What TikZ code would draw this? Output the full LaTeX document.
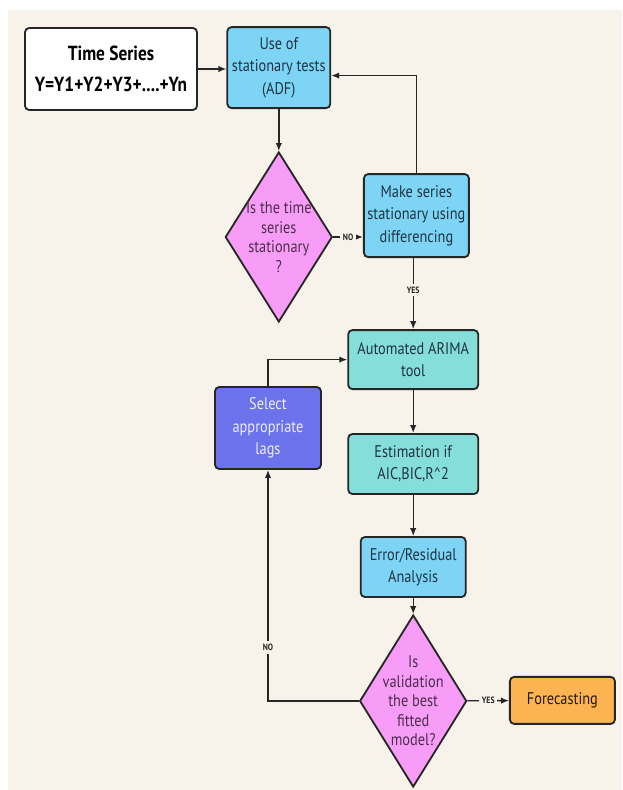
\documentclass[tikz,border=0pt]{standalone}
\usepackage{fontspec}
\setmainfont{PT Sans}[FakeStretch=0.85]
\usepackage{tikz}
\usetikzlibrary{arrows.meta,positioning,shapes.geometric,calc}
\definecolor{paper}{RGB}{247,243,234}
\definecolor{testBlue}{RGB}{125,212,245}
\definecolor{modelTeal}{RGB}{134,222,218}
\definecolor{lagPurple}{RGB}{108,114,236}
\definecolor{askPink}{RGB}{247,156,247}
\definecolor{outOrange}{RGB}{251,180,81}
\definecolor{inkText}{RGB}{30,52,66}
\tikzset{
    every node/.append style={align=center},
    box/.style={rectangle,draw=black!85,line width=1.3pt,rounded corners=3pt,
        text=inkText,font=\fontsize{12}{16}\selectfont,inner sep=1pt},
    gate/.style={diamond,draw=black!85,line width=1.3pt,fill=askPink,
        text=black!70!askPink,font=\fontsize{12}{13.9}\selectfont,inner sep=-3mm},
    arr/.style={-{Latex[length=2mm,width=1.6mm]},line width=1pt,draw=black!85},
    lbl/.style={font=\fontsize{6.5}{7}\bfseries\selectfont,fill=paper,inner sep=2pt,text=black!85}
}

\begin{document}
\begin{tikzpicture}
    \useasboundingbox (0,0) rectangle (15.55,-19.75);
    \fill[paper] (0.2,-0.25) rectangle (15.55,-19.75);
    % top row
    \node[box,fill=white,text=black,minimum width=4.3cm,minimum height=2.05cm,
        font=\fontsize{14.5}{22}\bfseries\selectfont] (ts) at (2.775,-1.725) {Time Series\\Y=Y1+Y2+Y3+....+Yn};
    \node[box,fill=testBlue,minimum width=2.575cm,minimum height=2.025cm] (adf) at (6.97,-1.69) {Use of\\stationary tests\\(ADF)};
    % stationarity check
    \node[gate,minimum width=2.675cm,minimum height=4.25cm] (stat) at (6.97,-5.925) {Is the time\\series\\stationary\\?};
    \node[box,fill=testBlue,minimum width=2.625cm,minimum height=2.075cm] (diff) at (10.41,-5.39) {Make series\\stationary using\\differencing};
    % model spine
    \node[box,fill=modelTeal,minimum width=3.25cm,minimum height=1.475cm] (arima) at (10.33,-8.99) {Automated ARIMA\\tool};
    \node[box,fill=modelTeal,minimum width=3.25cm,minimum height=1.5cm] (est) at (10.33,-11.6) {Estimation if\\AIC,BIC,R\textasciicircum2};
    \node[box,fill=testBlue,minimum width=2.625cm,minimum height=1.5cm] (resid) at (10.33,-14.175) {Error/Residual\\Analysis};
    \node[gate,minimum width=2.675cm,minimum height=4.3cm] (valid) at (10.33,-17.525) {Is\\validation\\the best\\fitted\\model?};
    \node[box,fill=outOrange,text=black!80!brown,minimum width=2.625cm,minimum height=1.175cm] (fcast) at (14.06,-17.51) {Forecasting};
    % retry path
    \node[box,fill=lagPurple,text=white!88!lagPurple,minimum width=2.65cm,minimum height=2.05cm] (lags) at (6.7,-10.7) {Select\\appropriate\\lags};

    \draw[arr] (ts.east) -- (ts.east -| adf.west);
    \draw[arr] (adf) -- (stat);
    \draw[arr] (stat.east) -- node[lbl]{NO} (stat.east -| diff.west);
    \draw[arr] (diff.north) |- ([yshift=-0.2cm]adf.east);
    \draw[arr] (arima.north |- diff.south) -- node[lbl,pos=0.45]{YES} (arima.north);
    \draw[arr] (arima) -- (est);
    \draw[arr] (est) -- (resid);
    \draw[arr] (resid) -- (valid);
    \draw[arr] (valid) -- node[lbl]{YES} (fcast);
    \draw[arr] (valid.west) -| node[lbl,pos=0.616]{NO} (lags.south);
    \draw[arr] (lags.north) |- (arima.west);
\end{tikzpicture}
\end{document}
